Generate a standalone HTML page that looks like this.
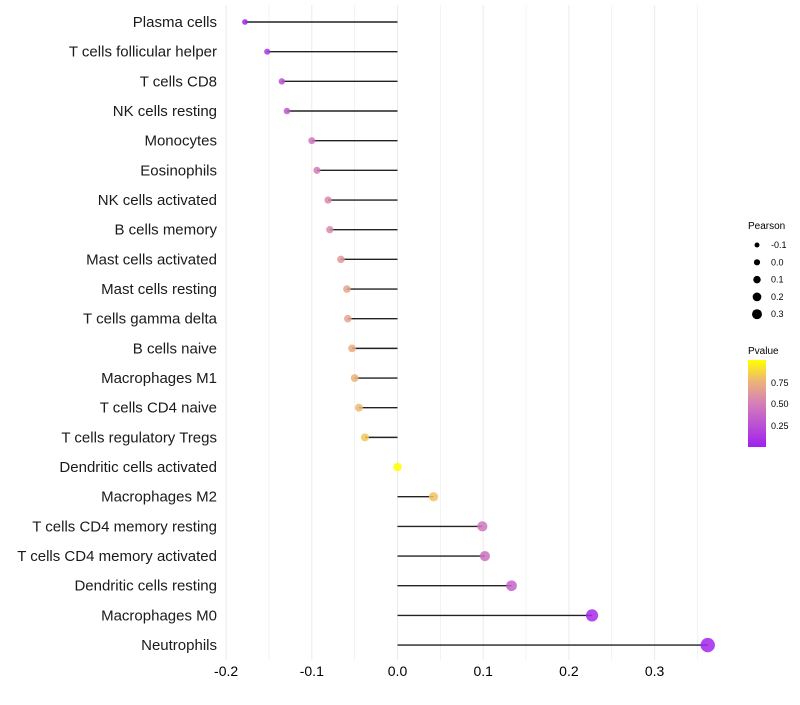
<!DOCTYPE html>
<html><head><meta charset="utf-8"><style>
body{margin:0;background:#fff;font-family:"Liberation Sans",sans-serif}
</style></head><body>
<svg id="c" width="800" height="700" xmlns="http://www.w3.org/2000/svg">
<defs><linearGradient id="pg" x1="0" y1="1" x2="0" y2="0">
<stop offset="0" stop-color="#A020F0"/><stop offset="0.5" stop-color="#D57FB8"/><stop offset="0.75" stop-color="#EDB27A"/><stop offset="1" stop-color="#FFFF00"/></linearGradient></defs>
<g id="grid"></g><g id="marks"></g><g id="labels"></g>
<g font-size="9" fill="#000">
<text x="748" y="229" font-size="10">Pearson</text>
<g id="sizeLeg"></g>
<text x="748" y="354" font-size="10">Pvalue</text>
<rect x="748" y="360" width="18" height="87" fill="url(#pg)"/>
<text x="771" y="386">0.75</text><text x="771" y="407">0.50</text><text x="771" y="429">0.25</text>
</g>
</svg>
<script>
const categories=["Plasma cells","T cells follicular helper","T cells CD8","NK cells resting","Monocytes","Eosinophils","NK cells activated","B cells memory","Mast cells activated","Mast cells resting","T cells gamma delta","B cells naive","Macrophages M1","T cells CD4 naive","T cells regulatory  Tregs","Dendritic cells activated","Macrophages M2","T cells CD4 memory resting","T cells CD4 memory activated","Dendritic cells resting","Macrophages M0","Neutrophils"];
const pearson=[-0.178,-0.152,-0.135,-0.129,-0.100,-0.094,-0.081,-0.079,-0.066,-0.059,-0.058,-0.053,-0.050,-0.045,-0.038,0.0,0.042,0.099,0.102,0.133,0.227,0.362];
const pvalue=[0.03,0.12,0.25,0.3,0.45,0.48,0.55,0.55,0.62,0.68,0.68,0.72,0.74,0.77,0.82,1.0,0.8,0.45,0.42,0.35,0.05,0.03];
const xTicks=[-0.2,-0.1,0.0,0.1,0.2,0.3];
const xTickLabels=["-0.2","-0.1","0.0","0.1","0.2","0.3"];
const sizeLegVals=[-0.1,0.0,0.1,0.2,0.3];
const NS="http://www.w3.org/2000/svg";
const x=v=>397.5+v*857;
const y=i=>22+i*29.67;
const r=v=>Math.max(1.6,4.3+8*v);
const rl=v=>3.1+6.25*v;
function hex(h){return[parseInt(h.slice(1,3),16),parseInt(h.slice(3,5),16),parseInt(h.slice(5,7),16)];}
const stops=[[0,"#A020F0"],[0.5,"#D57FB8"],[0.75,"#EDB27A"],[1,"#FFFF00"]];
function col(p){for(let k=1;k<stops.length;k++){if(p<=stops[k][0]){const a=stops[k-1],b=stops[k],t=(p-a[0])/(b[0]-a[0]);const c1=hex(a[1]),c2=hex(b[1]);return "rgb("+c1.map((c,j)=>Math.round(c+(c2[j]-c)*t)).join(",")+")";}}return stops[3][1];}
function mk(t,a,p){const e=document.createElementNS(NS,t);for(const k in a)e.setAttribute(k,a[k]);p.appendChild(e);return e;}
const grid=document.getElementById('grid'),marks=document.getElementById('marks'),labels=document.getElementById('labels');
for(let v=-0.2;v<=0.36;v+=0.05){const g=mk('line',{x1:x(v),x2:x(v),y1:5,y2:660,stroke:'#EBEBEB','stroke-width':Math.abs(Math.round(v*20))%2==0?1:0.6},grid);

}
xTicks.forEach((v,i)=>{const t=mk('text',{x:x(v),y:676,'text-anchor':'middle','font-size':14,fill:'#000'},labels);t.textContent=xTickLabels[i];

});
categories.forEach((c,i)=>{
const t=mk('text',{x:217,y:y(i)+5,'text-anchor':'end','font-size':15,fill:'#1a1a1a'},labels);t.textContent=c;


const l=mk('line',{x1:x(0),x2:x(pearson[i]),y1:y(i),y2:y(i),stroke:'#222','stroke-width':1.4},marks);


const d=mk('circle',{cx:x(pearson[i]),cy:y(i),r:r(pearson[i]),fill:col(pvalue[i]),'fill-opacity':0.85},marks);


});
const sl=document.getElementById('sizeLeg');
sizeLegVals.forEach((v,i)=>{const cy=245+i*17.3;
const d=mk('circle',{cx:757,cy:cy,r:rl(v),fill:'#000'},sl);


const t=mk('text',{x:771,y:cy+3,'font-size':9},sl);t.textContent=v.toFixed(1);

});
</script>
</body></html>
